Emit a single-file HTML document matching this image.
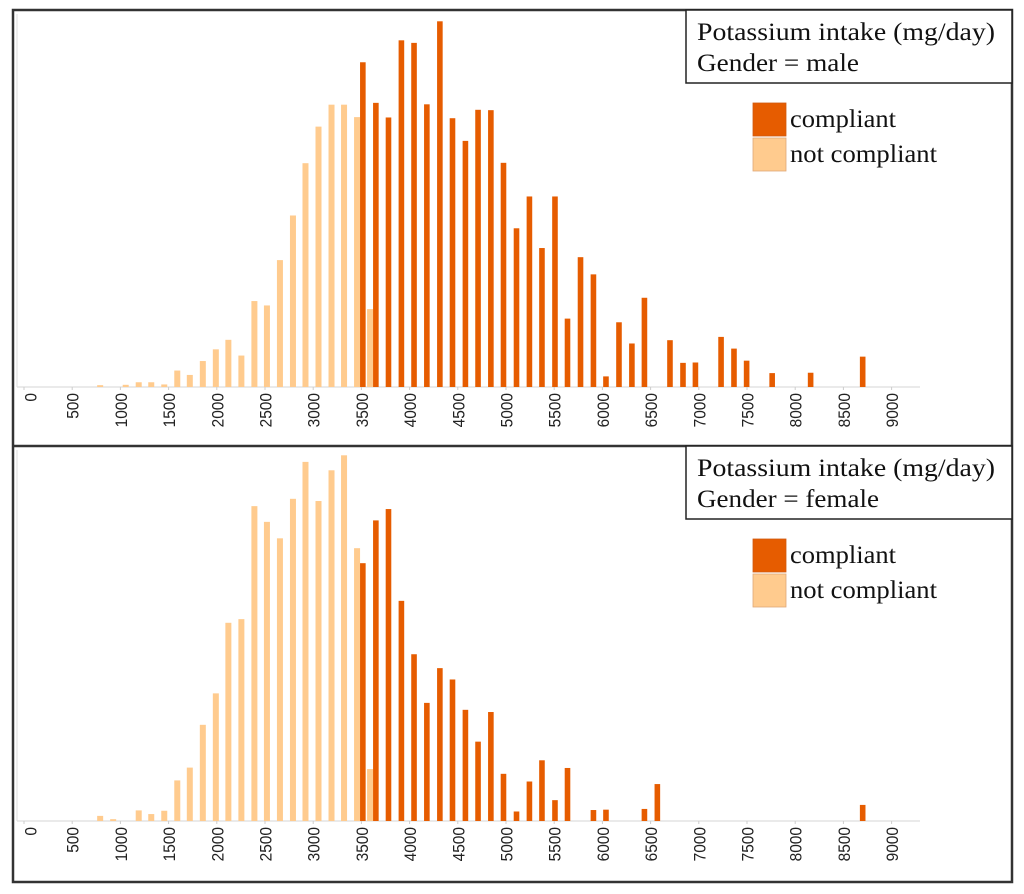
<!DOCTYPE html>
<html><head><meta charset="utf-8"><style>
html,body{margin:0;padding:0;background:#fff;width:1024px;height:894px;overflow:hidden}
svg{display:block}
.tick{font-family:"Liberation Sans",sans-serif;font-size:17px;fill:#222}
.ttl{font-family:"Liberation Serif",serif;font-size:25px;fill:#111}
</style></head><body>
<svg id="chart" width="1024" height="894" viewBox="0 0 1024 894">
  <rect x="13" y="10" width="999" height="872" fill="none" stroke="#333" stroke-width="2.5"/>
  <line x1="13" y1="446" x2="1012" y2="446" stroke="#333" stroke-width="2.5"/>
  <g id="panels"></g>
</svg>
<script>
// ---- data (counts in relative units, max = 100) ----
const tickLabels = [0,500,1000,1500,2000,2500,3000,3500,4000,4500,5000,5500,6000,6500,7000,7500,8000,8500,9000];

const maleLightBins = [790,1055,1190,1320,1455,1590,1720,1855,1990,2120,2255,2390,2520,2655,2790,2920,3055,3190,3320,3455,3590];
const maleLightVals = [0.5,0.6,1.3,1.3,0.7,4.5,3.3,7.1,10.3,12.9,8.6,23.5,22.3,34.7,46.9,61.2,71.2,77.2,77.2,73.8,21.3];
const maleDarkBins = [3515,3650,3781,3915,4046,4179,4314,4445,4579,4710,4843,4974,5109,5243,5373,5508,5638,5773,5907,6037,6172,6306,6436,6701,6836,6965,7231,7365,7496,7761,8160,8700];
const maleDarkVals = [88.8,77.7,73.7,94.8,94.1,77.3,100,73.5,67.3,75.8,75.7,61.3,43.4,52.1,38.0,52.1,18.7,35.5,30.8,2.9,17.7,11.9,24.4,12.8,6.6,6.7,13.7,10.5,7.2,3.8,3.9,8.3];

const femaleLightBins = [790,925,1190,1320,1455,1590,1720,1855,1990,2120,2255,2390,2520,2655,2790,2920,3055,3190,3320,3455,3590];
const femaleLightVals = [1.4,0.5,2.9,1.9,2.8,11.1,14.6,26.3,34.9,54.2,55.2,86.1,81.8,77.3,88.1,98.2,87.5,95.9,100,74.6,14.2];
const femaleDarkBins = [3515,3650,3781,3915,4046,4179,4314,4445,4579,4710,4843,4974,5109,5243,5373,5508,5638,5907,6037,6436,6570,8700];
const femaleDarkVals = [70.5,82.2,85.3,60.2,45.6,32.3,41.8,38.7,30.4,21.7,29.8,12.9,2.6,10.8,16.6,5.7,14.5,3.0,3.1,3.3,10.1,4.4];

const NS = 'http://www.w3.org/2000/svg';
const LIGHT = '#FFCB8E', DARK = '#E65C00';
function xScale(v){ return 24 + v*0.0964; }

function mk(tag, attrs, parent){
  const el = document.createElementNS(NS, tag);
  for (const k in attrs) el.setAttribute(k, attrs[k]);
  parent.appendChild(el);
  return el;
}

function panel(gender, top, base, lb, lv, db, dv){
  const root = document.getElementById('panels');
  const g = mk('g', {}, root);
  
  
  const yScale = v => base - v*3.657;
  const ya = mk('line', {x1:17, y1:top+4, x2:17, y2:base, stroke:'#ddd', 'stroke-width':1}, g);
  
  
  const xa = mk('line', {x1:17, y1:base, x2:920, y2:base, stroke:'#ddd', 'stroke-width':1.2}, g);
  
  
  tickLabels.forEach(t => {
    const x = xScale(t);
    const tm = mk('line', {x1:x, y1:base, x2:x, y2:base+3, stroke:'#ccc'}, g);
    
    
    const s = String(t);
    const tx = mk('text', {class:'tick', x:0, y:0, 'text-anchor':'end', textLength:s.length*8.6, lengthAdjust:'spacingAndGlyphs', transform:`translate(${x+6.5 + (t===0?6:0)},${base+6}) rotate(-90)`}, g);
    tx.textContent = s;
    
    
  });
  lb.forEach((b,i) => {
    const y = yScale(lv[i]);
    const r = mk('rect', {x:xScale(b)-3, y:y, width:6, height:base-y, fill:LIGHT}, g);
    
    
  });
  db.forEach((b,i) => {
    const y = yScale(dv[i]);
    const r = mk('rect', {x:xScale(b)-2.8, y:y, width:5.6, height:base-y, fill:DARK}, g);
    
    
  });
  const tb = mk('rect', {x:686, y:top, width:326, height:73, fill:'#fff', stroke:'#222', 'stroke-width':1.5}, g);
  
  
  const t1 = mk('text', {class:'ttl', x:697, y:top+30, textLength:298, lengthAdjust:'spacingAndGlyphs'}, g);
  t1.textContent = 'Potassium intake (mg/day)';
  
  
  const t2 = mk('text', {class:'ttl', x:697, y:top+61, textLength:(gender==='male'?162:182), lengthAdjust:'spacingAndGlyphs'}, g);
  t2.textContent = 'Gender = ' + gender;
  
  
  const s1 = mk('rect', {x:753, y:top+93, width:33, height:33, fill:DARK, stroke:'#d05a10', 'stroke-width':0.8}, g);
  
  
  const l1 = mk('text', {class:'ttl', x:790, y:top+117, textLength:106, lengthAdjust:'spacingAndGlyphs'}, g);
  l1.textContent = 'compliant';
  
  
  const s2 = mk('rect', {x:753, y:top+128, width:33, height:33, fill:LIGHT, stroke:'#e0a878', 'stroke-width':0.8}, g);
  
  
  const l2 = mk('text', {class:'ttl', x:790, y:top+152, textLength:147, lengthAdjust:'spacingAndGlyphs'}, g);
  l2.textContent = 'not compliant';
  
  
}
panel('male', 10, 387, maleLightBins, maleLightVals, maleDarkBins, maleDarkVals);
panel('female', 446, 821, femaleLightBins, femaleLightVals, femaleDarkBins, femaleDarkVals);
</script>
</body></html>
